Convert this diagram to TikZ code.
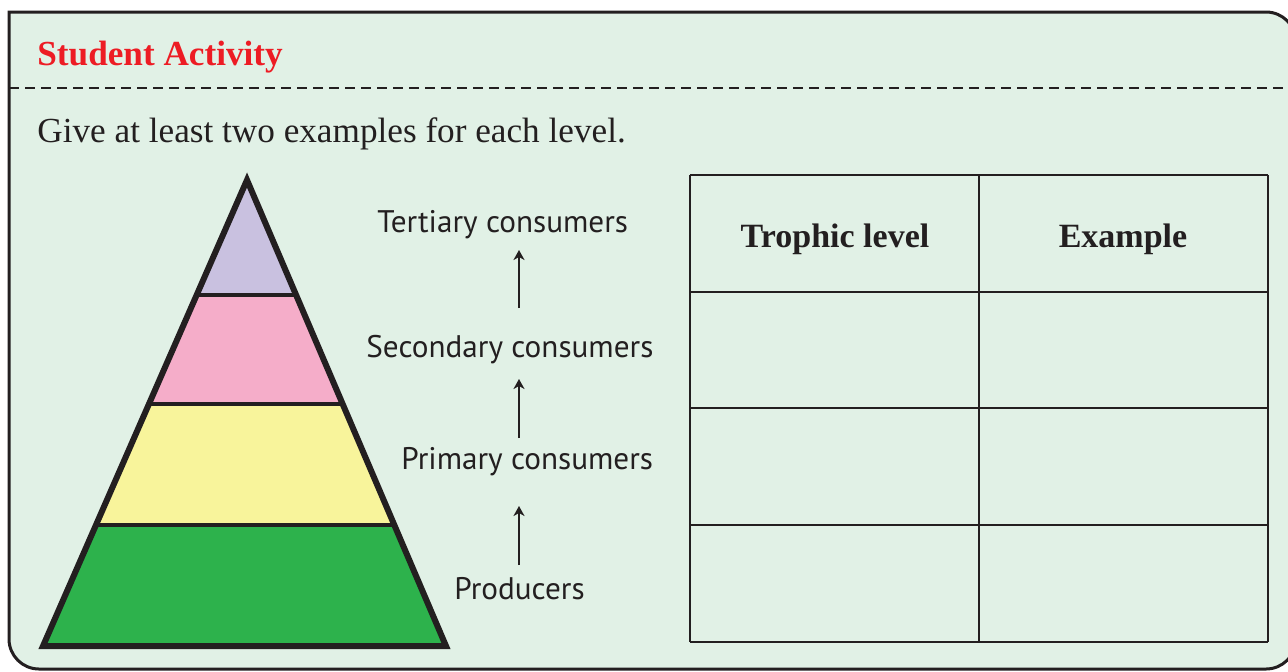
\documentclass[tikz,border=0pt]{standalone}
\usepackage{fontspec}
\setmainfont{Liberation Serif}
\newfontfamily\labelfont{PT Sans}
\usetikzlibrary{calc,arrows.meta}
\definecolor{ink}{HTML}{231F20}
\definecolor{panelgreen}{HTML}{E1F1E6}
\definecolor{titlered}{HTML}{ED1C24}
\definecolor{lavender}{HTML}{C9C1E0}
\definecolor{rosepink}{HTML}{F5ADC9}
\definecolor{paleyellow}{HTML}{F8F49B}
\definecolor{leafgreen}{HTML}{2DB24C}

\begin{document}
\begin{tikzpicture}[x=0.5pt,y=-0.5pt,
  level/.style={font=\labelfont\fontsize{15.6}{18}\selectfont,text=ink,inner sep=0pt,anchor=base west},
  head/.style={font=\bfseries\fontsize{17}{19}\selectfont,text=ink,inner sep=0pt,anchor=base},
  upward/.style={draw=ink,line width=1.4pt,-{Stealth[length=5pt,width=5.5pt,inset=1.5pt]}}]
\useasboundingbox (0,0) rectangle (1288,671);
\clip (0,0) rectangle (1288,671);

% panel
\draw[draw=ink,fill=panelgreen,line width=1.5pt] (9,12) -- (1230,12)
  {[rounded corners=15pt] -- (1296,12) -- (1296,669) -- (9,669) -- (9,600)} -- cycle;
\draw[ink,line width=1pt,dash pattern=on 5pt off 3pt] (9,88) -- (1296,88);
\node[font=\bfseries\fontsize{17.6}{20}\selectfont,text=titlered,inner sep=0pt,anchor=base west] (title) at (37,65) {Student Activity};
\node[font=\fontsize{17.6}{20}\selectfont,text=ink,inner sep=0pt,anchor=base west] (task) at (37,142) {Give at least two examples for each level.};

% pyramid
\coordinate (apex) at (247,180);
\coordinate (lbase) at (43,646);
\coordinate (rbase) at (446,646);
\foreach \name/\t in {one/0.2468,two/0.4807,three/0.7403}{
  \coordinate (\name l) at ($(apex)!\t!(lbase)$);
  \coordinate (\name r) at ($(apex)!\t!(rbase)$);
}
\fill[lavender] (apex) -- (oner) -- (onel) -- cycle;
\fill[rosepink] (onel) -- (oner) -- (twor) -- (twol) -- cycle;
\fill[paleyellow] (twol) -- (twor) -- (threer) -- (threel) -- cycle;
\fill[leafgreen] (threel) -- (threer) -- (rbase) -- (lbase) -- cycle;
\draw[ink,line width=2pt] (onel) -- (oner) (twol) -- (twor) (threel) -- (threer);
\draw[ink,line width=3pt,line join=miter] (apex) -- (rbase) -- (lbase) -- cycle;

% levels
\node[level] (tertiary) at (377,232) {Tertiary consumers};
\node[level] (secondary) at (366,357) {Secondary consumers};
\node[level] (primary) at (401,469) {Primary consumers};
\node[level] (producers) at (454,599) {Producers};
\coordinate (s1) at (519,565); \coordinate (e1) at (519,506);
\coordinate (s2) at (519,438); \coordinate (e2) at (519,379);
\coordinate (s3) at (519,308); \coordinate (e3) at (519,250);
\foreach \i in {1,2,3} \draw[upward] (s\i) -- (e\i);

% table
\foreach \y in {175,292,408,525,642}
  \draw[ink,line width=1.25pt] (690,\y) -- (1268,\y);
\foreach \x in {690,979,1268}
  \draw[ink,line width=1.25pt] (\x,175) -- (\x,642);
\node[head] (hlevel) at (835,247) {Trophic level};
\node[head] (hexample) at (1123,247) {Example};
\end{tikzpicture}
\end{document}
